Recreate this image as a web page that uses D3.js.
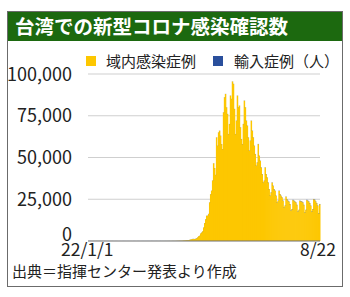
<!DOCTYPE html>
<html lang="ja">
<head>
<meta charset="UTF-8">
<title>台湾での新型コロナ感染確認数</title>
<script src="https://d3js.org/d3.v7.min.js"></script>
<style>
  body { margin: 0; background: #fff; }
  svg { display: block; font-family: "Noto Sans CJK JP", "Noto Sans", sans-serif; }
</style>
</head>
<body>
<svg id="chart" width="350" height="297"></svg>
<script>
// daily domestic cases (域内感染症例), 2022/1/1 - 8/22
const domJan = [0,3,5,12,9,15,22,19,27,24,18,30,14,22,16,12,9,18,14,8,11,7,16,10,13,9,6,12,5,8,4];
const domFeb = [3,6,2,5,8,4,3,7,2,5,6,3,9,4,7,2,5,6,8,3,4,7,5,2,6,9,3,4];
const domMar = [5,8,4,6,10,3,9,7,12,5,8,11,6,15,9,12,18,20,15,22,25,30,28,35,41,38,52,47,61,70,85];
const domApr = [106,124,153,137,167,220,262,315,380,441,420,480,710,880,1030,1190,1210,1130,1380,1660,2230,2880,3150,4500,5100,5800,8100,10700,13000,15100];
const domMay = [15100,16200,23100,28000,30100,36200,46500,43600,39500,62000,57000,65000,66000,63000,58000,55000,77000,86000,88000,80000,76000,64000,70000,87000,85000,95500,94000,79000,64000,72000,87000];
const domJun = [80000,81000,68000,61000,58000,70000,84000,80000,72000,69000,62000,54000,60000,72000,66000,62000,57000,52000,45000,47000,58000,51000,48000,44000,40000,35000,36000,44000,40000,38000];
const domJul = [35000,31000,27000,29000,35000,33000,31000,30000,27000,23000,24000,30000,28000,27000,26000,24000,20000,21000,26500,25000,24000,23500,22000,18000,19000,24500,24000,23500,23000,21500,17500];
const domAug = [18500,24000,23800,23500,23000,21500,17000,18500,24500,24000,23500,22500,21000,17500,19000,25000,24500,23500,22500,21000,16500,22000];

// daily imported cases (輸入症例)
const impJan = [25,31,40,28,35,44,30,26,38,33,29,41,36,27,24,30,35,28,22,31,26,20,24,29,33,21,18,25,30,19,16];
const impFeb = [18,22,15,20,27,19,24,17,21,26,14,23,19,16,25,28,20,17,22,31,26,19,24,28,33,21,27,30];
const impMar = [29,35,31,26,38,42,30,34,29,41,37,33,28,45,39,36,40,32,44,38,35,41,47,39,36,43,50,45,41,48,52];
const impApr = [54,46,58,61,49,55,63,57,52,60,66,58,62,55,49,67,61,58,70,64,59,66,72,61,68,74,65,70,77,69];
const impMay = [72,66,80,75,69,84,78,73,70,86,81,76,90,83,79,74,88,92,85,80,94,87,82,96,90,85,99,93,88,95,101];
const impJun = [96,90,104,98,93,108,102,97,111,105,100,115,109,103,118,112,106,121,115,110,124,118,113,127,121,116,130,124,119,132];
const impJul = [126,120,134,128,123,137,131,126,140,134,129,143,137,132,146,140,135,149,143,138,152,146,141,155,149,144,158,152,147,160,154];
const impAug = [149,162,156,151,165,159,154,168,162,157,171,165,160,174,168,163,177,171,166,180,174,169];

const yTicks = [0, 25000, 50000, 75000, 100000];
const xLabels = ["22/1/1", "8/22"];

const title = "台湾での新型コロナ感染確認数";
const legendLabels = ["域内感染症例", "輸入症例（人）"];
const source = "出典＝指揮センター発表より作成";

const domestic = [].concat(domJan, domFeb, domMar, domApr, domMay, domJun, domJul, domAug);
const imported = [].concat(impJan, impFeb, impMar, impApr, impMay, impJun, impJul, impAug);
const start = new Date(2022, 0, 1);
const data = domestic.map((v, i) => ({
  date: d3.timeDay.offset(start, i),
  domestic: v,
  imported: imported[i]
}));

const colors = { domestic: "#fdc700", imported: "#2a4f9c" };

const svg = d3.select("#chart");

// frame
svg.append("rect")
  .attr("x", 7.5).attr("y", 11.5)
  .attr("width", 335).attr("height", 275)
  .attr("fill", "#fff")
  .attr("stroke", "#6b6b6b");

// header
svg.append("rect")
  .attr("x", 8).attr("y", 12)
  .attr("width", 334).attr("height", 29)
  .attr("fill", "#1c690f");

svg.append("text")
  .attr("x", 15).attr("y", 34)
  .attr("fill", "#fff")
  .attr("font-size", 19.5)
  .attr("font-weight", "bold")
  .text(title);

const x = d3.scaleBand()
  .domain(data.map(d => d.date))
  .range([88, 320])
  .paddingInner(0);

const y = d3.scaleLinear()
  .domain([0, 100000])
  .range([241, 74]);

// gridlines
svg.append("g")
  .selectAll("line")
  .data(yTicks.filter(t => t > 0))
  .join("line")
  .attr("x1", 88).attr("x2", 320)
  .attr("y1", d => y(d)).attr("y2", d => y(d))
  .attr("stroke", "#cfcfcf")
  .attr("stroke-width", 1);

// stacked bars
const stack = d3.stack().keys(["domestic", "imported"]);
const series = stack(data);

svg.append("g")
  .selectAll("g")
  .data(series)
  .join("g")
  .attr("fill", s => colors[s.key])
  .selectAll("rect")
  .data(s => s)
  .join("rect")
  .attr("x", d => x(d.data.date))
  .attr("width", x.bandwidth() + 0.5)
  .attr("y", d => y(d[1]))
  .attr("height", d => y(d[0]) - y(d[1]));

// baseline
svg.append("line")
  .attr("x1", 88).attr("x2", 320)
  .attr("y1", y(0)).attr("y2", y(0))
  .attr("stroke", "#6e6e6e")
  .attr("stroke-width", 1);

// y labels
svg.append("g")
  .selectAll("text")
  .data(yTicks)
  .join("text")
  .attr("x", 72)
  .attr("y", d => d === 0 ? 241 : y(d) + 6.5)
  .attr("text-anchor", "end")
  .attr("font-size", 18)
  .attr("fill", "#222")
  .text(d => d3.format(",")(d));

// x labels
svg.append("text")
  .attr("x", 61).attr("y", 256)
  .attr("font-size", 17.5)
  .attr("fill", "#222")
  .text(xLabels[0]);

svg.append("text")
  .attr("x", 336).attr("y", 256)
  .attr("text-anchor", "end")
  .attr("font-size", 17.5)
  .attr("fill", "#222")
  .text(xLabels[1]);

// legend
const legend = svg.append("g");
const legendPos = [{ sx: 86, tx: 106 }, { sx: 213, tx: 234 }];
legend.selectAll("rect")
  .data(["domestic", "imported"])
  .join("rect")
  .attr("x", (d, i) => legendPos[i].sx)
  .attr("y", 56)
  .attr("width", 10).attr("height", 10)
  .attr("fill", d => colors[d]);

legend.selectAll("text")
  .data(legendLabels)
  .join("text")
  .attr("x", (d, i) => legendPos[i].tx)
  .attr("y", 67)
  .attr("font-size", 15)
  .attr("fill", "#222")
  .text(d => d);

// source
svg.append("text")
  .attr("x", 12).attr("y", 277)
  .attr("font-size", 15)
  .attr("fill", "#222")
  .text(source);
</script>
</body>
</html>
